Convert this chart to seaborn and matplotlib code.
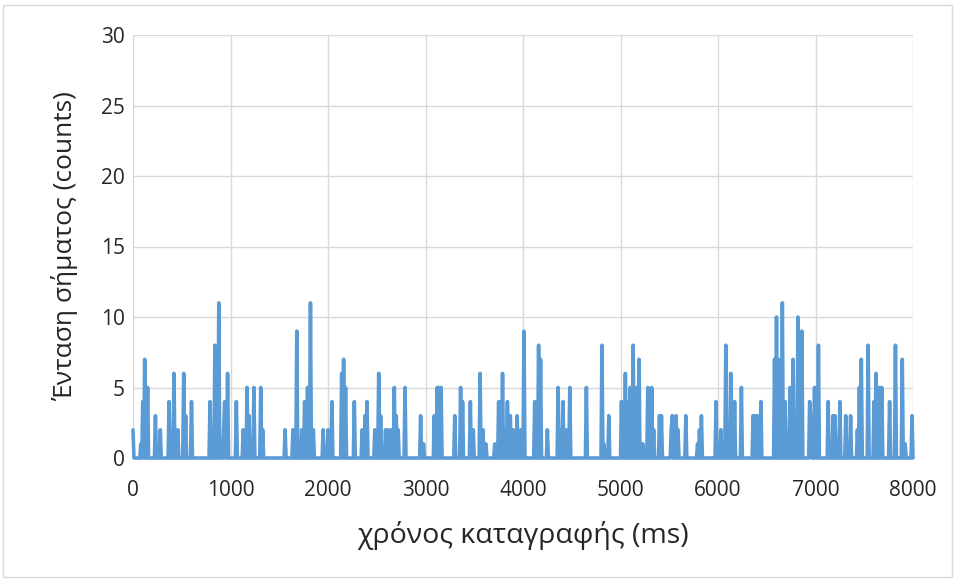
import numpy as np
import pandas as pd
import matplotlib
matplotlib.use("Agg")
import matplotlib.pyplot as plt
import matplotlib.patches as mpatches
import seaborn as sns

# ---- data (time in ms, counts) ----
spike_times = [
    0, 79, 96, 123, 147, 232, 284, 369, 424, 455, 520, 540, 602, 793, 841, 879,
    926, 944, 967, 1063, 1131, 1166, 1193, 1245, 1309, 1330, 1559, 1637, 1675,
    1730, 1764, 1791, 1822, 1849, 1952, 2000, 2044, 2140, 2164, 2185, 2270,
    2349, 2379, 2400, 2482, 2516, 2540, 2588, 2612, 2636, 2677, 2697, 2715,
    2793, 2950, 2978, 3090, 3115, 3135, 3159, 3302, 3357, 3378, 3463, 3491,
    3556, 3586, 3617, 3713, 3747, 3767, 3791, 3815, 3843, 3870, 3901, 3935,
    3979, 4013, 4116, 4157, 4181, 4249, 4356, 4380, 4413, 4437, 4482, 4646,
    4807, 4834, 4875, 5012, 5046, 5073, 5097, 5131, 5158, 5190, 5210, 5227,
    5279, 5320, 5337, 5395, 5415, 5518, 5531, 5569, 5586, 5671, 5791, 5808,
    5832, 5976, 6027, 6082, 6133, 6174, 6236, 6362, 6380, 6397, 6437, 6584,
    6602, 6620, 6659, 6687, 6714, 6745, 6772, 6817, 6865, 6936, 6950, 6988,
    7029, 7131, 7179, 7200, 7251, 7313, 7364, 7432, 7450, 7473, 7541, 7600,
    7617, 7644, 7661, 7678, 7764, 7815, 7894, 7918, 7986,
]
spike_counts = [
    2, 1, 4, 7, 5, 3, 2, 4, 6, 2, 6, 3, 4, 4, 8, 11,
    2, 4, 6, 4, 2, 5, 3, 5, 5, 2, 2, 2, 9,
    2, 4, 5, 11, 2, 2, 2, 4, 6, 7, 5, 4,
    2, 3, 4, 2, 6, 3, 2, 2, 2, 5, 3, 2,
    5, 3, 1, 3, 5, 5, 5, 3, 5, 4, 4, 2,
    6, 2, 1, 1, 4, 4, 6, 2, 4, 3, 2, 3,
    2, 9, 4, 8, 7, 2, 5, 2, 4, 2, 5, 5,
    8, 1, 3, 4, 6, 4, 5, 8, 5, 7, 1, 1,
    5, 5, 2, 3, 3, 2, 3, 3, 2, 3, 1, 2,
    3, 4, 2, 8, 6, 4, 5, 3, 3, 3, 4, 7,
    10, 7, 11, 4, 1, 5, 7, 10, 9, 4, 3, 5,
    8, 4, 3, 3, 4, 3, 3, 2, 5, 7, 8, 4,
    6, 5, 5, 5, 4, 8, 7, 1, 3,
]
sample_step_ms = 10
x_ticks = [0, 1000, 2000, 3000, 4000, 5000, 6000, 7000, 8000]
y_ticks = [0, 5, 10, 15, 20, 25, 30]
x_label = "χρόνος καταγραφής (ms)"
y_label = "Ένταση σήματος (counts)"

# build the sampled series (zero between recorded events)
time = np.arange(0, x_ticks[-1] + sample_step_ms, sample_step_ms)
counts = np.zeros(len(time))
for t, c in zip(spike_times, spike_counts):
    counts[int(round(t / sample_step_ms))] = c
df = pd.DataFrame({"time": time, "counts": counts})

sns.set_theme(style="white")
plt.rcParams["font.family"] = ["Open Sans", "DejaVu Sans"]

W, H = 957, 581
fig = plt.figure(figsize=(W / 100, H / 100), dpi=100)
fig.patch.set_facecolor("white")
ax = fig.add_axes([133 / W, 1 - 458 / H, 780 / W, 423 / H])

sns.lineplot(data=df, x="time", y="counts", color="#5B9BD5", linewidth=2.6,
             ax=ax, zorder=3)
for ln in ax.lines:
    ln.set_solid_joinstyle("round")
    ln.set_solid_capstyle("round")
    ln.set_clip_on(False)

ax.set_xlim(x_ticks[0], x_ticks[-1])
ax.set_ylim(y_ticks[0], y_ticks[-1])
ax.set_xticks(x_ticks)
ax.set_yticks(y_ticks)
ax.set_xticklabels([str(v) for v in x_ticks])
ax.set_yticklabels([str(v) for v in y_ticks])
ax.grid(True, color="#D9D9D9", linewidth=1.0, zorder=0)
for s in ax.spines.values():
    s.set_visible(False)
ax.tick_params(axis="both", length=0, labelsize=15, colors="#262626")
ax.tick_params(axis="x", pad=16)
ax.tick_params(axis="y", pad=6)
ax.set_xlabel(x_label, fontsize=20.5, color="#262626", labelpad=14)
ax.set_ylabel(y_label, fontsize=19, color="#262626", labelpad=16)

# outer chart border
fig.patches.append(mpatches.Rectangle((3 / W, 4 / H), (W - 8) / W, (H - 9) / H,
                                      transform=fig.transFigure, fill=False,
                                      edgecolor="#D9D9D9", linewidth=1.0))

fig.savefig("out.png", dpi=100, facecolor="white")
